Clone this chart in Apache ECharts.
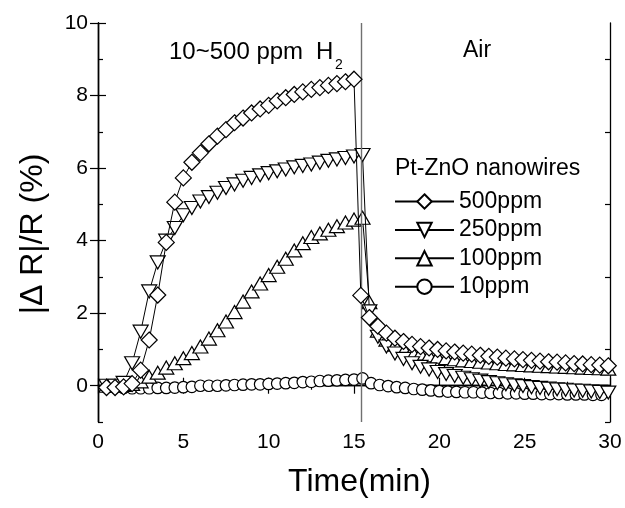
<!DOCTYPE html>
<html>
<head>
<meta charset="utf-8">
<script src="https://cdn.jsdelivr.net/npm/echarts@6/dist/echarts.min.js"></script>
<style>
html,body{margin:0;padding:0;background:#fff;}
#chart{width:625px;height:508px;}
</style>
</head>
<body>
<div id="chart"></div>
<script>
// ---- data ----
const seriesNames = ['500ppm', '250ppm', '100ppm', '10ppm'];
const t500 = [0.5,1,1.5,2,2.5,3,3.5,4,4.5,5,5.5,6,6.5,7,7.5,8,8.5,9,9.5,10,10.5,11,11.5,12,12.5,13,13.5,14,14.5,15,
  15.4,15.9,16.4,16.9,17.4,17.9,18.4,18.9,19.4,19.9,20.4,20.9,21.4,21.9,22.4,22.9,23.4,23.9,24.4,24.9,25.4,25.9,26.4,26.9,27.4,27.9,28.4,28.9,29.4,29.9];
const r500 = [-0.05,-0.05,-0.03,0.06,0.43,1.26,2.5,3.95,5.06,5.73,6.16,6.42,6.67,6.88,7.06,7.25,7.38,7.52,7.63,7.73,7.85,7.94,8.03,8.1,8.17,8.22,8.28,8.33,8.38,8.45,
  2.49,1.88,1.64,1.45,1.31,1.22,1.14,1.08,1.04,1.0,0.96,0.93,0.90,0.87,0.84,0.81,0.79,0.76,0.74,0.72,0.70,0.68,0.66,0.65,0.63,0.61,0.60,0.58,0.57,0.55];
const t250 = [0.5,1,1.5,2,2.5,3,3.5,4,4.5,5,5.5,6,6.5,7,7.5,8,8.5,9,9.5,10,10.5,11,11.5,12,12.5,13,13.5,14,14.5,15,15.5,
  15.9,16.4,16.9,17.4,17.9,18.4,18.9,19.4,19.9,20.4,20.9,21.4,21.9,22.4,22.9,23.4,23.9,24.4,24.9,25.4,25.9,26.4,26.9,27.4,27.9,28.4,28.9,29.4,29.9];
const r250 = [0.0,0.0,0.08,0.62,1.49,2.6,3.4,4.0,4.35,4.7,4.9,5.08,5.2,5.32,5.45,5.55,5.65,5.73,5.8,5.86,5.91,5.96,6.02,6.06,6.1,6.15,6.2,6.24,6.28,6.32,6.36,
  2.05,1.35,1.08,0.89,0.74,0.62,0.52,0.45,0.38,0.32,0.27,0.22,0.18,0.14,0.10,0.07,0.04,0.01,-0.01,-0.04,-0.06,-0.08,-0.10,-0.11,-0.13,-0.14,-0.16,-0.17,-0.19];
const t100 = [0.5,1,1.5,2,2.5,3,3.5,4,4.5,5,5.5,6,6.5,7,7.5,8,8.5,9,9.5,10,10.5,11,11.5,12,12.5,13,13.5,14,14.5,15,15.5,
  15.9,16.4,16.9,17.4,17.9,18.4,18.9,19.4,19.9,20.4,20.9,21.4,21.9,22.4,22.9,23.4,23.9,24.4,24.9,25.4,25.9,26.4,26.9,27.4,27.9,28.4,28.9,29.4,29.9];
const r100 = [0.0,0.0,0.02,0.05,0.12,0.25,0.36,0.5,0.62,0.76,0.9,1.08,1.3,1.53,1.77,2.03,2.32,2.6,2.82,3.05,3.28,3.5,3.73,3.93,4.1,4.2,4.3,4.4,4.5,4.58,4.63,
  2.3,1.52,1.27,1.13,1.03,0.95,0.89,0.84,0.80,0.76,0.73,0.70,0.68,0.66,0.64,0.62,0.60,0.59,0.57,0.56,0.55,0.54,0.53,0.52,0.51,0.50,0.49,0.48,0.47];
const t10 = [0.5,1,1.5,2,2.5,3,3.5,4,4.5,5,5.5,6,6.5,7,7.5,8,8.5,9,9.5,10,10.5,11,11.5,12,12.5,13,13.5,14,14.5,15,15.5,
  16,16.5,17,17.5,18,18.5,19,19.5,20,20.5,21,21.5,22,22.5,23,23.5,24,24.5,25,25.5,26,26.5,27,27.5,28,28.5,29,29.5];
const r10 = [-0.05,-0.05,-0.06,-0.07,-0.07,-0.07,-0.06,-0.06,-0.05,-0.04,-0.03,0.0,0.0,0.0,0.01,0.02,0.03,0.04,0.04,0.05,0.06,0.07,0.08,0.1,0.11,0.13,0.14,0.15,0.16,0.17,0.2,
  0.07,0.02,-0.01,-0.04,-0.06,-0.09,-0.11,-0.13,-0.15,-0.16,-0.17,-0.18,-0.18,-0.19,-0.2,-0.2,-0.21,-0.21,-0.22,-0.22,-0.23,-0.23,-0.23,-0.24,-0.24,-0.24,-0.25,-0.25];
const switchTime = [15.4];
const xTicks = [0, 5, 10, 15, 20, 25, 30];
const yTicks = [0, 2, 4, 6, 8, 10];
const yMinorTicks = [-1, 1, 3, 5, 7, 9];

// ---- chart ----
const FONT = 'Liberation Sans, Arial, sans-serif';
const pairs = (t, r) => t.map((x, i) => [x, r[i]]);
const chart = echarts.init(document.getElementById('chart'));

const markerStyle = { color: '#fff', borderColor: '#000', borderWidth: 1.2 };
function mkSeries(name, t, r, symbol, size, rotate, z) {
  return {
    name, type: 'line', data: pairs(t, r), symbol, symbolSize: size, symbolRotate: rotate,
    showAllSymbol: true, clip: false, z,
    lineStyle: { color: '#000', width: 1 },
    itemStyle: markerStyle,
    emphasis: { disabled: true },
    animation: false
  };
}

const xBase = { type: 'value', min: 0, max: 30, interval: 5, gridIndex: 0,
  axisLine: { show: true, lineStyle: { color: '#000', width: 1.3 } },
  splitLine: { show: false } };
const yBase = { type: 'value', min: -1, max: 10, gridIndex: 0,
  axisLine: { show: true, lineStyle: { color: '#000', width: 1.3 } },
  splitLine: { show: false } };

const series = [
  mkSeries(seriesNames[3], t10, r10, 'circle', 11.5, 0, 2),
  mkSeries(seriesNames[2], t100, r100, 'triangle', [15, 13], 0, 3),
  mkSeries(seriesNames[1], t250, r250, 'triangle', [15, 13], 180, 4),
  mkSeries(seriesNames[0], t500, r500, 'diamond', 16, 0, 5)
];
series[0].markLine = {
  silent: true, symbol: ['none', 'none'], animation: false,
  label: { show: false },
  lineStyle: { color: '#707070', width: 1.4, type: 'solid' },
  data: switchTime.map(v => ({ xAxis: v }))
};

chart.setOption({
  animation: false,
  backgroundColor: '#fff',
  textStyle: { fontFamily: FONT },
  grid: { left: 98, right: 15, top: 23, bottom: 86, containLabel: false },
  xAxis: [
    Object.assign({}, xBase, { position: 'bottom',
      axisTick: { inside: true, length: 8, lineStyle: { color: '#000', width: 1.2 } },
      minorTick: { show: true, splitNumber: 2, length: 4, lineStyle: { color: '#000', width: 1.2 } },
      axisLabel: { fontSize: 21, color: '#000', margin: 10, fontFamily: FONT,
        customValues: xTicks },
      name: 'Time(min)', nameLocation: 'middle', nameGap: 44,
      nameTextStyle: { fontSize: 32, color: '#000', fontFamily: FONT, padding: [0, 0, 0, 11] } }),
    Object.assign({}, xBase, { position: 'top',
      axisTick: { inside: true, length: 8, lineStyle: { color: '#000', width: 1.2 } },
      minorTick: { show: true, splitNumber: 2, length: 4, lineStyle: { color: '#000', width: 1.2 } },
      axisLabel: { show: false } })
  ],
  yAxis: [
    Object.assign({}, yBase, { position: 'left',
      axisTick: { inside: true, length: 8, customValues: yTicks, lineStyle: { color: '#000', width: 1.2 } },
      axisLabel: { fontSize: 21, color: '#000', margin: 10, fontFamily: FONT, customValues: yTicks } }),
    Object.assign({}, yBase, { position: 'right',
      axisTick: { inside: true, length: 8, customValues: yTicks, lineStyle: { color: '#000', width: 1.2 } },
      axisLabel: { show: false } }),
    Object.assign({}, yBase, { position: 'left',
      axisTick: { inside: true, length: 5, customValues: yMinorTicks, lineStyle: { color: '#000', width: 1.2 } },
      axisLabel: { show: false } }),
    Object.assign({}, yBase, { position: 'right',
      axisTick: { inside: true, length: 5, customValues: yMinorTicks, lineStyle: { color: '#000', width: 1.2 } },
      axisLabel: { show: false } })
  ],
  legend: {
    data: seriesNames,
    orient: 'vertical', left: 394, top: 190, padding: 0,
    itemWidth: 59, itemHeight: 18, itemGap: 5.4,
    textStyle: { fontSize: 23, color: '#000', fontFamily: FONT, lineHeight: 23 },
    selectedMode: false
  },
  graphic: [
    { type: 'text', left: 395, top: 157, silent: true,
      style: { text: 'Pt-ZnO nanowires', fontSize: 23, fill: '#000', fontFamily: FONT } },
    { type: 'text', left: 169, top: 40, silent: true,
      style: { text: '10~500 ppm', fontSize: 24, fill: '#000', fontFamily: FONT } },
    { type: 'text', left: 316, top: 40, silent: true,
      style: { text: 'H', fontSize: 24, fill: '#000', fontFamily: FONT } },
    { type: 'text', left: 335, top: 58, silent: true,
      style: { text: '2', fontSize: 14, fill: '#000', fontFamily: FONT } },
    { type: 'text', left: 463, top: 39, silent: true,
      style: { text: 'Air', fontSize: 23, fill: '#000', fontFamily: FONT } },
    { type: 'text', x: 33, y: 234, rotation: Math.PI / 2, silent: true,
      style: { text: '|\u0394 R|/R (%)', fontSize: 32, fill: '#000', fontFamily: FONT,
        align: 'center', verticalAlign: 'middle' } }
  ],
  series
});
</script>
</body>
</html>
